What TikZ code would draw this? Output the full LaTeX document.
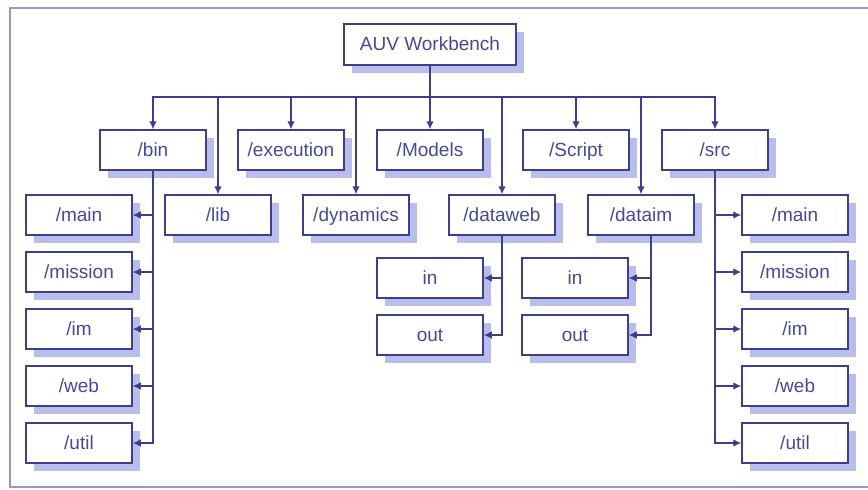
\documentclass[tikz,border=0pt]{standalone}
\usepackage{fontspec}
\setmainfont{Liberation Sans}
\usepackage{tikz}
\usetikzlibrary{positioning, shadows, arrows.meta, calc}

\definecolor{linecol}{RGB}{62,62,140}
\definecolor{textcol}{RGB}{72,72,150}
\definecolor{shadowcol}{RGB}{184,190,236}
\definecolor{framecol}{RGB}{150,150,200}

\tikzset{
	dirbox/.style={draw=linecol, line width=0.75pt, fill=white, text=textcol,
		minimum width=53pt, minimum height=20pt, inner sep=0pt,
		text height=7.8pt, text depth=1.5pt,
		font=\fontsize{9.5}{11}\selectfont,
		general shadow={fill=shadowcol, shadow xshift=4pt, shadow yshift=-4pt}},
	link/.style={draw=linecol, line width=0.6pt, -{Latex[length=4pt,width=3.8pt]}}
}

\begin{document}
\begin{tikzpicture}[x=0.5pt, y=-0.5pt]
	
	\useasboundingbox (0,0) rectangle (868,489);
	\draw[framecol, line width=1pt] (880,8) -- (10,8) -- (10,487) -- (880,487);
	
	%// root
	\node [dirbox, minimum width=86pt, minimum height=20.5pt] (auv) at (430,44.5) {AUV Workbench};
	
	%// first row
	\node [dirbox] (bin) at (153,150) {/bin};
	\node [dirbox] (execution) at (291,150) {/execution};
	\node [dirbox] (models) at (430,150) {/Models};
	\node [dirbox] (script) at (576,150) {/Script};
	\node [dirbox] (src) at (715,150) {/src};
	
	%// second row
	\node [dirbox] (lib) at (218,215) {/lib};
	\node [dirbox] (dynamics) at (356,215) {/dynamics};
	\node [dirbox] (dataweb) at (502,215) {/dataweb};
	\node [dirbox] (dataim) at (641,215) {/dataim};
	
	%// in / out
	\node [dirbox] (webin) at (430,278) {in};
	\node [dirbox] (webout) at (430,335) {out};
	\node [dirbox] (imin) at (575,278) {in};
	\node [dirbox] (imout) at (575,335) {out};
	
	%// columns under /bin and /src
	\foreach \n/\y in {main/215, mission/272, im/329, web/386, util/443}
	{
		\node [dirbox] (bin\n) at (79,\y) {/\n};
		\node [dirbox] (src\n) at (795,\y) {/\n};
	}
	
	%// connectors
	\coordinate (bus) at (430,97);
	\foreach \n in {bin, lib, execution, dynamics, models, dataweb, script, dataim, src}
	\draw [link] (auv.south) -- (auv.south |- bus) -| (\n.north);
	
	\foreach \n in {main, mission, im, web, util}
	{
		\draw [link] (bin.south) |- (bin\n.east);
		\draw [link] (src.south) |- (src\n.west);
	}
	
	\draw [link] (dataweb.south) |- (webin.east);
	\draw [link] (dataweb.south) |- (webout.east);
	\draw [link] ([xshift=5pt]dataim.south) |- (imin.east);
	\draw [link] ([xshift=5pt]dataim.south) |- (imout.east);
	
\end{tikzpicture}
\end{document}
